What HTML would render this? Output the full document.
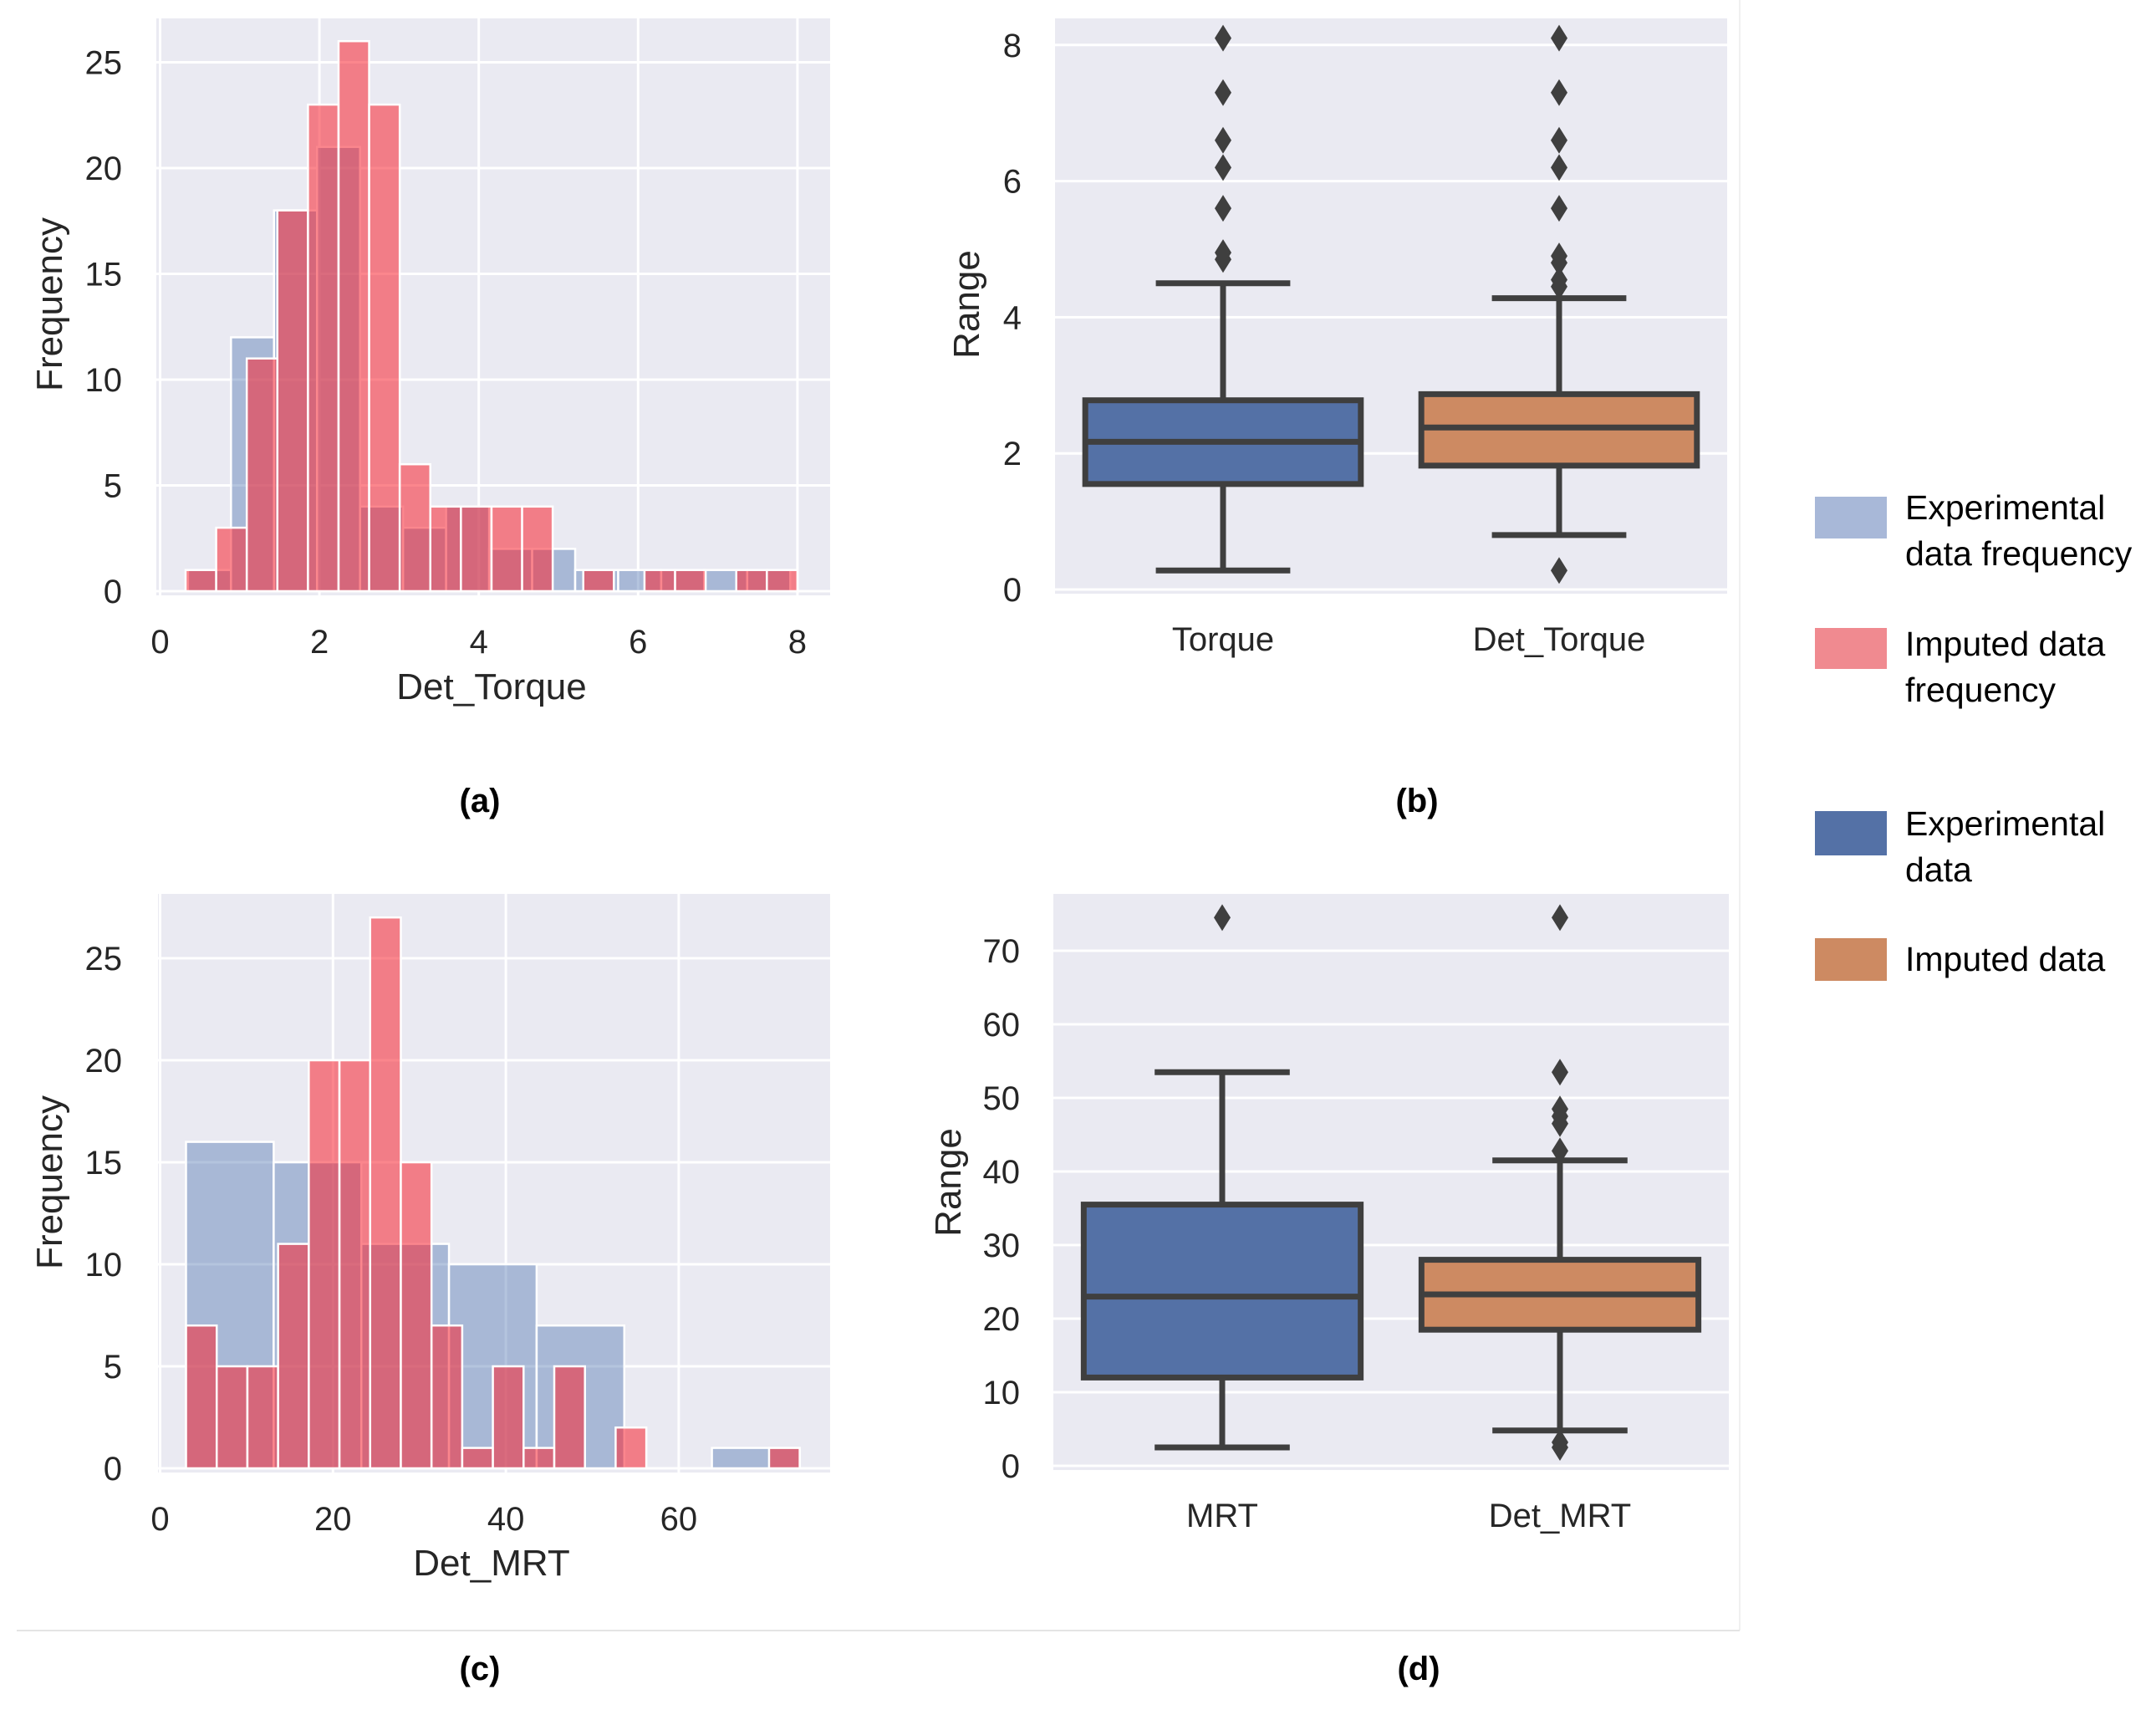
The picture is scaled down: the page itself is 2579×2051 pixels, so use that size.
<!DOCTYPE html>
<html><head><meta charset="utf-8"><style>
html,body{margin:0;padding:0;background:#fff;}
svg{display:block;}
text{font-family:"Liberation Sans",sans-serif;fill:#262626;}
.tick{font-size:40px;}
.axl{font-size:44px;}
.pl{font-size:40px;font-weight:bold;fill:#000;}
.lg{font-family:"Liberation Sans Narrow","Liberation Sans",sans-serif;font-size:41px;fill:#000;}
</style></head><body>
<svg id="fig" width="2579" height="2051" viewBox="0 0 2579 2051" xmlns="http://www.w3.org/2000/svg">
<line x1="2081" y1="0" x2="2081" y2="1950" stroke="#f0f0f0" stroke-width="2"/>
<line x1="20" y1="1950" x2="2081" y2="1950" stroke="#e4e4e4" stroke-width="2"/>
<text class="pl" x="574" y="971" text-anchor="middle">(a)</text>
<text class="pl" x="1695" y="971" text-anchor="middle">(b)</text>
<text class="pl" x="574" y="2009" text-anchor="middle">(c)</text>
<text class="pl" x="1697" y="2009" text-anchor="middle">(d)</text>
<g>
<rect x="2171" y="594" width="86" height="50" fill="#a8b8d8"/>
<text class="lg" x="2279" y="621">Experimental</text>
<text class="lg" x="2279" y="676">data frequency</text>
<rect x="2171" y="751" width="86" height="49" fill="#f08a90"/>
<text class="lg" x="2279" y="784">Imputed data</text>
<text class="lg" x="2279" y="839">frequency</text>
<rect x="2171" y="970" width="86" height="53" fill="#5471a6"/>
<text class="lg" x="2279" y="999">Experimental</text>
<text class="lg" x="2279" y="1054">data</text>
<rect x="2171" y="1122" width="86" height="51" fill="#cd8a62"/>
<text class="lg" x="2279" y="1161">Imputed data</text>
</g>
</svg>
<script>
// ---- Panel (a) data: Det_Torque histograms ----
const aBlueStart = 0.35, aBlueWidth = 0.54;
const aBlueCounts = [1,12,18,21,4,3,4,2,2,1,1,1,1,1];
const aRedStart = 0.32, aRedWidth = 0.384;
const aRedCounts = [1,3,11,18,23,26,23,6,4,4,4,4,0,1,0,1,1,0,1,1];
const aXTicks = [0,2,4,6,8];
const aYTicks = [0,5,10,15,20,25];
// ---- Panel (c) data: Det_MRT histograms ----
const cBlueStart = 3.0, cBlueWidth = 10.14;
const cBlueCounts = [16,15,11,10,7,0,1];
const cRedStart = 3.0, cRedWidth = 3.55;
const cRedCounts = [7,5,5,11,20,20,27,15,7,1,5,1,5,0,2,0,0,0,0,1];
const cXTicks = [0,20,40,60];
const cYTicks = [0,5,10,15,20,25];
// ---- Panel (b) data: Torque boxplots ----
const bCategories = ["Torque","Det_Torque"];
const bWhiskerLow = [0.28,0.8];
const bQ1 = [1.55,1.82];
const bMedian = [2.17,2.38];
const bQ3 = [2.78,2.87];
const bWhiskerHigh = [4.5,4.28];
const bOutliers = [[4.85,4.95,5.6,6.2,6.6,7.3,8.1],[0.28,4.45,4.55,4.8,4.9,5.6,6.2,6.6,7.3,8.1]];
const bYTicks = [0,2,4,6,8];
// ---- Panel (d) data: MRT boxplots ----
const dCategories = ["MRT","Det_MRT"];
const dWhiskerLow = [2.5,4.8];
const dQ1 = [12,18.5];
const dMedian = [23,23.3];
const dQ3 = [35.5,28];
const dWhiskerHigh = [53.5,41.5];
const dOutliers = [[74.5],[2.5,3.2,42.8,46.5,47.5,48.5,53.5,74.5]];
const dYTicks = [0,10,20,30,40,50,60,70];

const NS = "http://www.w3.org/2000/svg";
const fig = document.getElementById('fig');
function mk(tag, attrs, parent){
  const e = document.createElementNS(NS, tag);
  for (const k in attrs) e.setAttribute(k, attrs[k]);
  (parent||fig).appendChild(e);
  return e;
}

function hist(cfg){
  const g = mk('g', {});
  
  
  const bg = mk('rect', {x:cfg.L, y:cfg.T, width:cfg.R-cfg.L, height:cfg.B-cfg.T, fill:'#eaeaf2'}, g);
  
  
  const sx = v => cfg.x0 + v*cfg.kx;
  const sy = v => cfg.y0 - v*cfg.ky;
  cfg.xTicks.forEach(t=>{
    const l = mk('line', {x1:sx(t), x2:sx(t), y1:cfg.T, y2:cfg.B, stroke:'#fff', 'stroke-width':3}, g);
    
    
    const tx = mk('text', {x:sx(t), y:cfg.xLabY, 'text-anchor':'middle', class:'tick'}, g);
    tx.textContent = t;
    
    
  });
  cfg.yTicks.forEach(t=>{
    const l = mk('line', {x1:cfg.L, x2:cfg.R, y1:sy(t), y2:sy(t), stroke:'#fff', 'stroke-width':3}, g);
    
    
    const tx = mk('text', {x:cfg.yLabX, y:sy(t)+14, 'text-anchor':'end', class:'tick'}, g);
    tx.textContent = t;
    
    
  });
  const series = [
    {start:cfg.bs, w:cfg.bw, c:cfg.bc, fill:'rgb(76,114,176)', op:0.42, n:'bar-experimental'},
    {start:cfg.rs, w:cfg.rw, c:cfg.rc, fill:'rgb(248,40,52)', op:0.56, n:'bar-imputed'}
  ];
  series.forEach(s=>{
    s.c.forEach((cnt,i)=>{
      if (!cnt) return;
      const x1 = sx(s.start + i*s.w), x2 = sx(s.start + (i+1)*s.w);
      const r = mk('rect', {x:x1, y:sy(cnt), width:x2-x1, height:sy(0)-sy(cnt), fill:s.fill, 'fill-opacity':s.op, stroke:'#fff', 'stroke-width':2.5}, g);
      
      
    });
  });
  const xl = mk('text', {x:cfg.xTitleX, y:cfg.xTitleY, 'text-anchor':'middle', class:'axl'}, g);
  xl.textContent = cfg.xTitle;
  
  
  const yl = mk('text', {x:0, y:0, 'text-anchor':'middle', class:'axl', transform:`translate(${cfg.yTitleX},${cfg.yTitleY}) rotate(-90)`}, g);
  yl.textContent = 'Frequency';
  
  
}

function boxes(cfg){
  const g = mk('g', {});
  
  
  const bg = mk('rect', {x:cfg.L, y:cfg.T, width:cfg.R-cfg.L, height:cfg.B-cfg.T, fill:'#eaeaf2'}, g);
  
  
  const sy = v => cfg.y0 - v*cfg.ky;
  cfg.yTicks.forEach(t=>{
    const l = mk('line', {x1:cfg.L, x2:cfg.R, y1:sy(t), y2:sy(t), stroke:'#fff', 'stroke-width':3}, g);
    
    
    const tx = mk('text', {x:cfg.yLabX, y:sy(t)+14, 'text-anchor':'end', class:'tick'}, g);
    tx.textContent = t;
    
    
  });
  const colors = ['#5471a6','#cd8a62'];
  const band = (cfg.R - cfg.L)/cfg.cats.length;
  const lc = '#3f3f3f';
  cfg.cats.forEach((cat,i)=>{
    const cx = cfg.L + band*(i+0.5);
    const hw = band*0.41, cw = band*0.2;
    const w1 = mk('line', {x1:cx, x2:cx, y1:sy(cfg.wl[i]), y2:sy(cfg.q1[i]), stroke:lc, 'stroke-width':7}, g);
    
    
    const w2 = mk('line', {x1:cx, x2:cx, y1:sy(cfg.q3[i]), y2:sy(cfg.wh[i]), stroke:lc, 'stroke-width':7}, g);
    
    
    [cfg.wl[i], cfg.wh[i]].forEach(v=>{
      const c = mk('line', {x1:cx-cw, x2:cx+cw, y1:sy(v), y2:sy(v), stroke:lc, 'stroke-width':7}, g);
      
      
    });
    const b = mk('rect', {x:cx-hw, y:sy(cfg.q3[i]), width:2*hw, height:sy(cfg.q1[i])-sy(cfg.q3[i]), fill:colors[i], stroke:lc, 'stroke-width':7}, g);
    
    
    const m = mk('line', {x1:cx-hw, x2:cx+hw, y1:sy(cfg.med[i]), y2:sy(cfg.med[i]), stroke:lc, 'stroke-width':7}, g);
    
    
    cfg.out[i].forEach(v=>{
      const y = sy(v);
      const d = mk('path', {d:`M${cx},${y-16} L${cx+10},${y} L${cx},${y+16} L${cx-10},${y} Z`, fill:lc}, g);
      
      
    });
    const tx = mk('text', {x:cx, y:cfg.xLabY, 'text-anchor':'middle', class:'tick'}, g);
    tx.textContent = cat;
    
    
  });
  const yl = mk('text', {x:0, y:0, 'text-anchor':'middle', class:'axl', transform:`translate(${cfg.yTitleX},${cfg.yTitleY}) rotate(-90)`}, g);
  yl.textContent = 'Range';
  
  
}

hist({name:'histogram-det-torque', L:187, R:993, T:22, B:712, x0:191.5, kx:95.3, y0:707, ky:25.3,
  xTicks:aXTicks, yTicks:aYTicks, xLabY:781, yLabX:146,
  bs:aBlueStart, bw:aBlueWidth, bc:aBlueCounts, rs:aRedStart, rw:aRedWidth, rc:aRedCounts,
  xTitle:'Det_Torque', xTitleX:588, xTitleY:836, yTitleX:74, yTitleY:364});
hist({name:'histogram-det-mrt', L:189, R:993, T:1069, B:1761, x0:191.5, kx:10.34, y0:1756, ky:24.4,
  xTicks:cXTicks, yTicks:cYTicks, xLabY:1830, yLabX:146,
  bs:cBlueStart, bw:cBlueWidth, bc:cBlueCounts, rs:cRedStart, rw:cRedWidth, rc:cRedCounts,
  xTitle:'Det_MRT', xTitleX:588, xTitleY:1884, yTitleX:74, yTitleY:1414});
boxes({name:'boxplot-torque', L:1262, R:2066, T:22, B:710, y0:705, ky:81.4, yTicks:bYTicks,
  yLabX:1222, xLabY:778, cats:bCategories, wl:bWhiskerLow, q1:bQ1, med:bMedian, q3:bQ3, wh:bWhiskerHigh, out:bOutliers,
  yTitleX:1171, yTitleY:364});
boxes({name:'boxplot-mrt', L:1260, R:2068, T:1069, B:1758, y0:1753, ky:8.8, yTicks:dYTicks,
  yLabX:1220, xLabY:1826, cats:dCategories, wl:dWhiskerLow, q1:dQ1, med:dMedian, q3:dQ3, wh:dWhiskerHigh, out:dOutliers,
  yTitleX:1149, yTitleY:1414});
</script>
</body></html>
